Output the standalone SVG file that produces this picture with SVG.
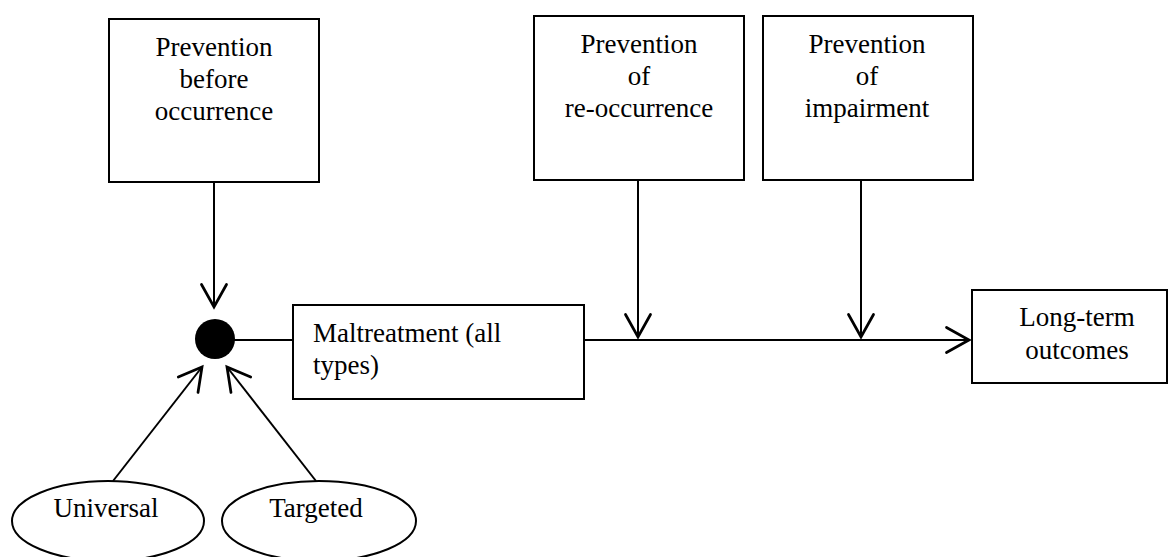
<svg xmlns="http://www.w3.org/2000/svg" width="1169" height="557" viewBox="0 0 1169 557">
<style>
.box{fill:#fff;stroke:#000;stroke-width:2}
.t{font-family:"Liberation Serif","Times New Roman",serif;font-size:27px;fill:#000}
.c{text-anchor:middle}
.ln{stroke:#000;stroke-width:2;fill:none}
</style>
<defs>
<marker id="arr" markerUnits="userSpaceOnUse" markerWidth="30" markerHeight="30" refX="0" refY="0" viewBox="-20 -12 22 24" orient="auto" overflow="visible">
<path d="M-18,-10 L0,0 L-18,10" fill="none" stroke="#000" stroke-width="2.2" stroke-linecap="round" stroke-linejoin="miter"/>
</marker>
</defs>
<rect width="1169" height="557" fill="#fff"/>
<g id="connectors">
<line class="ln" x1="214" y1="182" x2="214" y2="307" marker-end="url(#arr)"/>
<line class="ln" x1="638" y1="180" x2="638" y2="337" marker-end="url(#arr)"/>
<line class="ln" x1="861" y1="180" x2="861" y2="337" marker-end="url(#arr)"/>
<line class="ln" x1="232" y1="340" x2="293" y2="340"/>
<line class="ln" x1="584" y1="340" x2="969" y2="340" marker-end="url(#arr)"/>
<line class="ln" x1="113" y1="481" x2="202" y2="367" marker-end="url(#arr)"/>
<line class="ln" x1="316" y1="481" x2="227" y2="367" marker-end="url(#arr)"/>
</g>
<g id="prevention-before">
<rect class="box" x="109" y="19" width="210" height="163"/>
<text class="t c" x="214" y="56">Prevention</text>
<text class="t c" x="214" y="88">before</text>
<text class="t c" x="214" y="120">occurrence</text>
</g>
<g id="prevention-reoccurrence">
<rect class="box" x="534" y="16" width="210" height="164"/>
<text class="t c" x="639" y="53">Prevention</text>
<text class="t c" x="639" y="85">of</text>
<text class="t c" x="639" y="117">re-occurrence</text>
</g>
<g id="prevention-impairment">
<rect class="box" x="763" y="16" width="210" height="164"/>
<text class="t c" x="867" y="53">Prevention</text>
<text class="t c" x="867" y="85">of</text>
<text class="t c" x="867" y="117">impairment</text>
</g>
<g id="junction">
<circle cx="215" cy="339" r="20" fill="#000"/>
</g>
<g id="maltreatment">
<rect class="box" x="293" y="305" width="291" height="94"/>
<text class="t" x="313" y="342">Maltreatment (all</text>
<text class="t" x="313" y="374">types)</text>
</g>
<g id="long-term">
<rect class="box" x="972" y="290" width="195" height="93"/>
<text class="t c" x="1077" y="326">Long-term</text>
<text class="t c" x="1077" y="359">outcomes</text>
</g>
<g id="universal">
<ellipse class="box" cx="108" cy="521" rx="96" ry="40"/>
<text class="t c" x="106" y="517">Universal</text>
</g>
<g id="targeted">
<ellipse class="box" cx="319" cy="521" rx="97" ry="40"/>
<text class="t c" x="316" y="517">Targeted</text>
</g>
</svg>
